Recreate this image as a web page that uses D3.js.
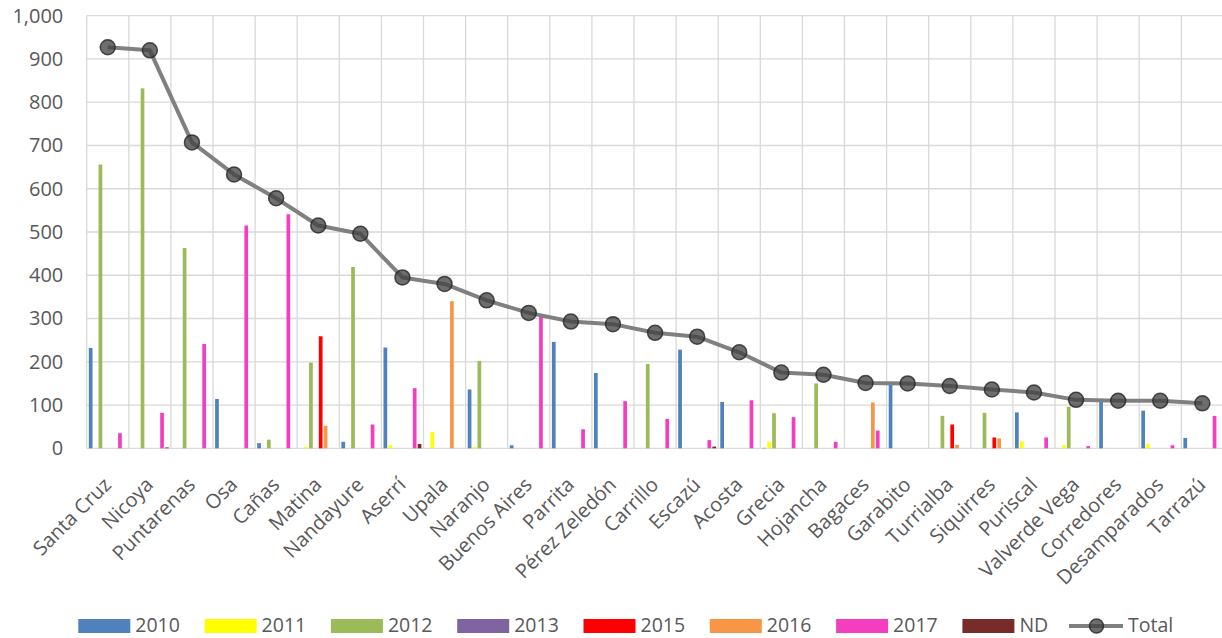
<!DOCTYPE html>
<html>
<head>
<meta charset="utf-8">
<script src="https://cdn.jsdelivr.net/npm/d3@7"></script>
<style>
	body { margin: 0; background: #fff; }
	svg { display: block; font-family: "Open Sans", sans-serif; }
</style>
</head>
<body>
<svg id="chart" width="1222" height="638"></svg>
<script>
let categories = ["Santa Cruz", "Nicoya", "Puntarenas", "Osa", "Cañas", "Matina", "Nandayure", "Aserrí", "Upala",
	"Naranjo", "Buenos Aires", "Parrita", "Pérez Zeledón", "Carrillo", "Escazú", "Acosta", "Grecia", "Hojancha",
	"Bagaces", "Garabito", "Turrialba", "Siquirres", "Puriscal", "Valverde Vega", "Corredores", "Desamparados", "Tarrazú"];

let series_names = ["2010", "2011", "2012", "2013", "2015", "2016", "2017", "ND"];

let v2010 = [232, 0, 0, 114, 12, 0, 15, 233, 0, 136, 7, 246, 174, 0, 228, 107, 1, 0, 0, 148, 0, 0, 83, 0, 108, 87, 24];
let v2011 = [0, 0, 0, 0, 0, 3, 0, 7, 38, 3, 0, 0, 0, 0, 0, 0, 15, 0, 0, 0, 0, 0, 16, 7, 0, 10, 0];
let v2012 = [656, 832, 463, 0, 20, 198, 419, 0, 0, 202, 0, 0, 0, 195, 0, 0, 81, 150, 0, 0, 75, 82, 0, 96, 0, 0, 0];
let v2013 = [0, 0, 0, 0, 0, 0, 0, 0, 0, 0, 0, 0, 0, 0, 0, 0, 0, 0, 0, 0, 0, 0, 0, 0, 0, 0, 0];
let v2015 = [0, 0, 0, 0, 0, 259, 0, 0, 0, 0, 0, 0, 0, 0, 0, 0, 0, 0, 0, 0, 55, 25, 0, 0, 0, 0, 0];
let v2016 = [0, 0, 0, 0, 0, 52, 0, 0, 340, 0, 0, 0, 0, 0, 0, 0, 0, 0, 106, 0, 8, 23, 0, 0, 0, 0, 0];
let v2017 = [35, 82, 241, 515, 541, 0, 55, 139, 0, 0, 304, 44, 109, 68, 19, 111, 72, 15, 41, 0, 0, 0, 25, 5, 0, 7, 75];
let vND = [0, 2, 0, 0, 0, 0, 0, 10, 0, 0, 0, 0, 0, 0, 4, 0, 0, 0, 0, 0, 0, 0, 0, 0, 0, 0, 0];
let total = [927, 920, 707, 633, 578, 515, 496, 395, 380, 342, 313, 293, 287, 267, 258, 222, 175, 170, 151, 150, 144, 136, 129, 112, 110, 110, 104];

let y_ticks = [0, 100, 200, 300, 400, 500, 600, 700, 800, 900, 1000];

let series_values = [v2010, v2011, v2012, v2013, v2015, v2016, v2017, vND];
let series_colors = ["#4f81bd", "#ffff00", "#9bbb59", "#8064a2", "#ff0000", "#f79646", "#f23ebf", "#772c2a"];

let svg = d3.select("#chart");
let plot_left = 86.7, plot_top = 15.7, plot_bottom = 448.3;
let cat_w = 42.1;

let x = d3.scaleBand()
	.domain(categories)
	.range([plot_left, plot_left + cat_w * categories.length])
	.padding(0);

let x_sub = d3.scaleBand()
	.domain(series_names)
	.range([-18.95, 18.95])
	.paddingInner(0.24);

let y = d3.scaleLinear()
	.domain([0, 1000])
	.range([plot_bottom, plot_top]);

// grid
let grid = svg.append("g");
grid.selectAll("line.h")
	.data(y_ticks)
	.enter().append("line")
	.attr("x1", plot_left)
	.attr("x2", 1222)
	.attr("y1", d => y(d))
	.attr("y2", d => y(d))
	.style("stroke", "#d9d9d9")
	.style("stroke-width", 1.3);

let v_lines = categories.map(c => x(c));
grid.selectAll("line.v")
	.data(v_lines)
	.enter().append("line")
	.attr("x1", d => d)
	.attr("x2", d => d)
	.attr("y1", plot_top)
	.attr("y2", plot_bottom)
	.style("stroke", "#d9d9d9")
	.style("stroke-width", 1.3);

// y axis labels
let y_axis = svg.append("g")
	.attr("transform", "translate(" + (plot_left - 23.4) + ",0)")
	.call(d3.axisLeft(y).tickValues(y_ticks).tickFormat(d3.format(",")).tickSize(0).tickPadding(0));
y_axis.select(".domain").remove();
y_axis.selectAll("text")
	.style("font-family", "Open Sans")
	.style("font-size", "20px")
	.style("fill", "#595959");

// x axis labels, rotated
let x_axis = svg.append("g")
	.attr("transform", "translate(0," + plot_bottom + ")")
	.call(d3.axisBottom(x).tickSize(0));
x_axis.select(".domain").remove();
x_axis.selectAll("text")
	.attr("x", 0)
	.attr("y", 0)
	.attr("dy", null)
	.attr("text-anchor", "end")
	.attr("transform", "translate(4.6,37.7) rotate(-45)")
	.style("font-family", "Open Sans")
	.style("font-size", "20px")
	.style("fill", "#595959");

// bars
series_names.forEach((s, si) => {
	let rows = categories.map((c, i) => ({ cat: c, v: series_values[si][i] }));
	svg.append("g")
		.selectAll("rect")
		.data(rows.filter(d => d.v > 0))
		.enter().append("rect")
		.attr("x", d => x(d.cat) + x.bandwidth() / 2 + x_sub(s))
		.attr("y", d => y(d.v))
		.attr("width", x_sub.bandwidth())
		.attr("height", d => y(0) - y(d.v))
		.style("fill", series_colors[si]);
});

// total line
let line = d3.line()
	.x((d, i) => x(categories[i]) + x.bandwidth() / 2)
	.y(d => y(d));

svg.append("path")
	.datum(total)
	.attr("d", line)
	.style("fill", "none")
	.style("stroke", "#808080")
	.style("stroke-width", 4)
	.style("stroke-linejoin", "round");

svg.append("g")
	.selectAll("circle")
	.data(total)
	.enter().append("circle")
	.attr("cx", (d, i) => x(categories[i]) + x.bandwidth() / 2)
	.attr("cy", d => y(d))
	.attr("r", 7.5)
	.style("fill", "rgba(64,64,64,0.76)")
	.style("stroke", "rgba(38,38,38,0.8)")
	.style("stroke-width", 1.5);

// legend
let legend = svg.append("g");
let leg_y = 619;
series_names.forEach((s, i) => {
	let lx = 78.3 + i * 126.3;
	legend.append("rect")
		.attr("x", lx)
		.attr("y", leg_y)
		.attr("width", 52)
		.attr("height", 14)
		.style("fill", series_colors[i]);
	legend.append("text")
		.attr("x", lx + 57)
		.attr("y", leg_y + 13)
		.style("font-size", "19.5px")
		.style("fill", "#595959")
		.text(s);
});
legend.append("line")
	.attr("x1", 1069)
	.attr("x2", 1123)
	.attr("y1", leg_y + 7)
	.attr("y2", leg_y + 7)
	.style("stroke", "#808080")
	.style("stroke-width", 4);
legend.append("circle")
	.attr("cx", 1096.5)
	.attr("cy", leg_y + 7)
	.attr("r", 7)
	.style("fill", "rgba(64,64,64,0.76)")
	.style("stroke", "rgba(38,38,38,0.8)")
	.style("stroke-width", 1.5);
legend.append("text")
	.attr("x", 1128)
	.attr("y", leg_y + 13)
	.style("font-size", "19.5px")
	.style("fill", "#595959")
	.text("Total");
</script>
</body>
</html>
